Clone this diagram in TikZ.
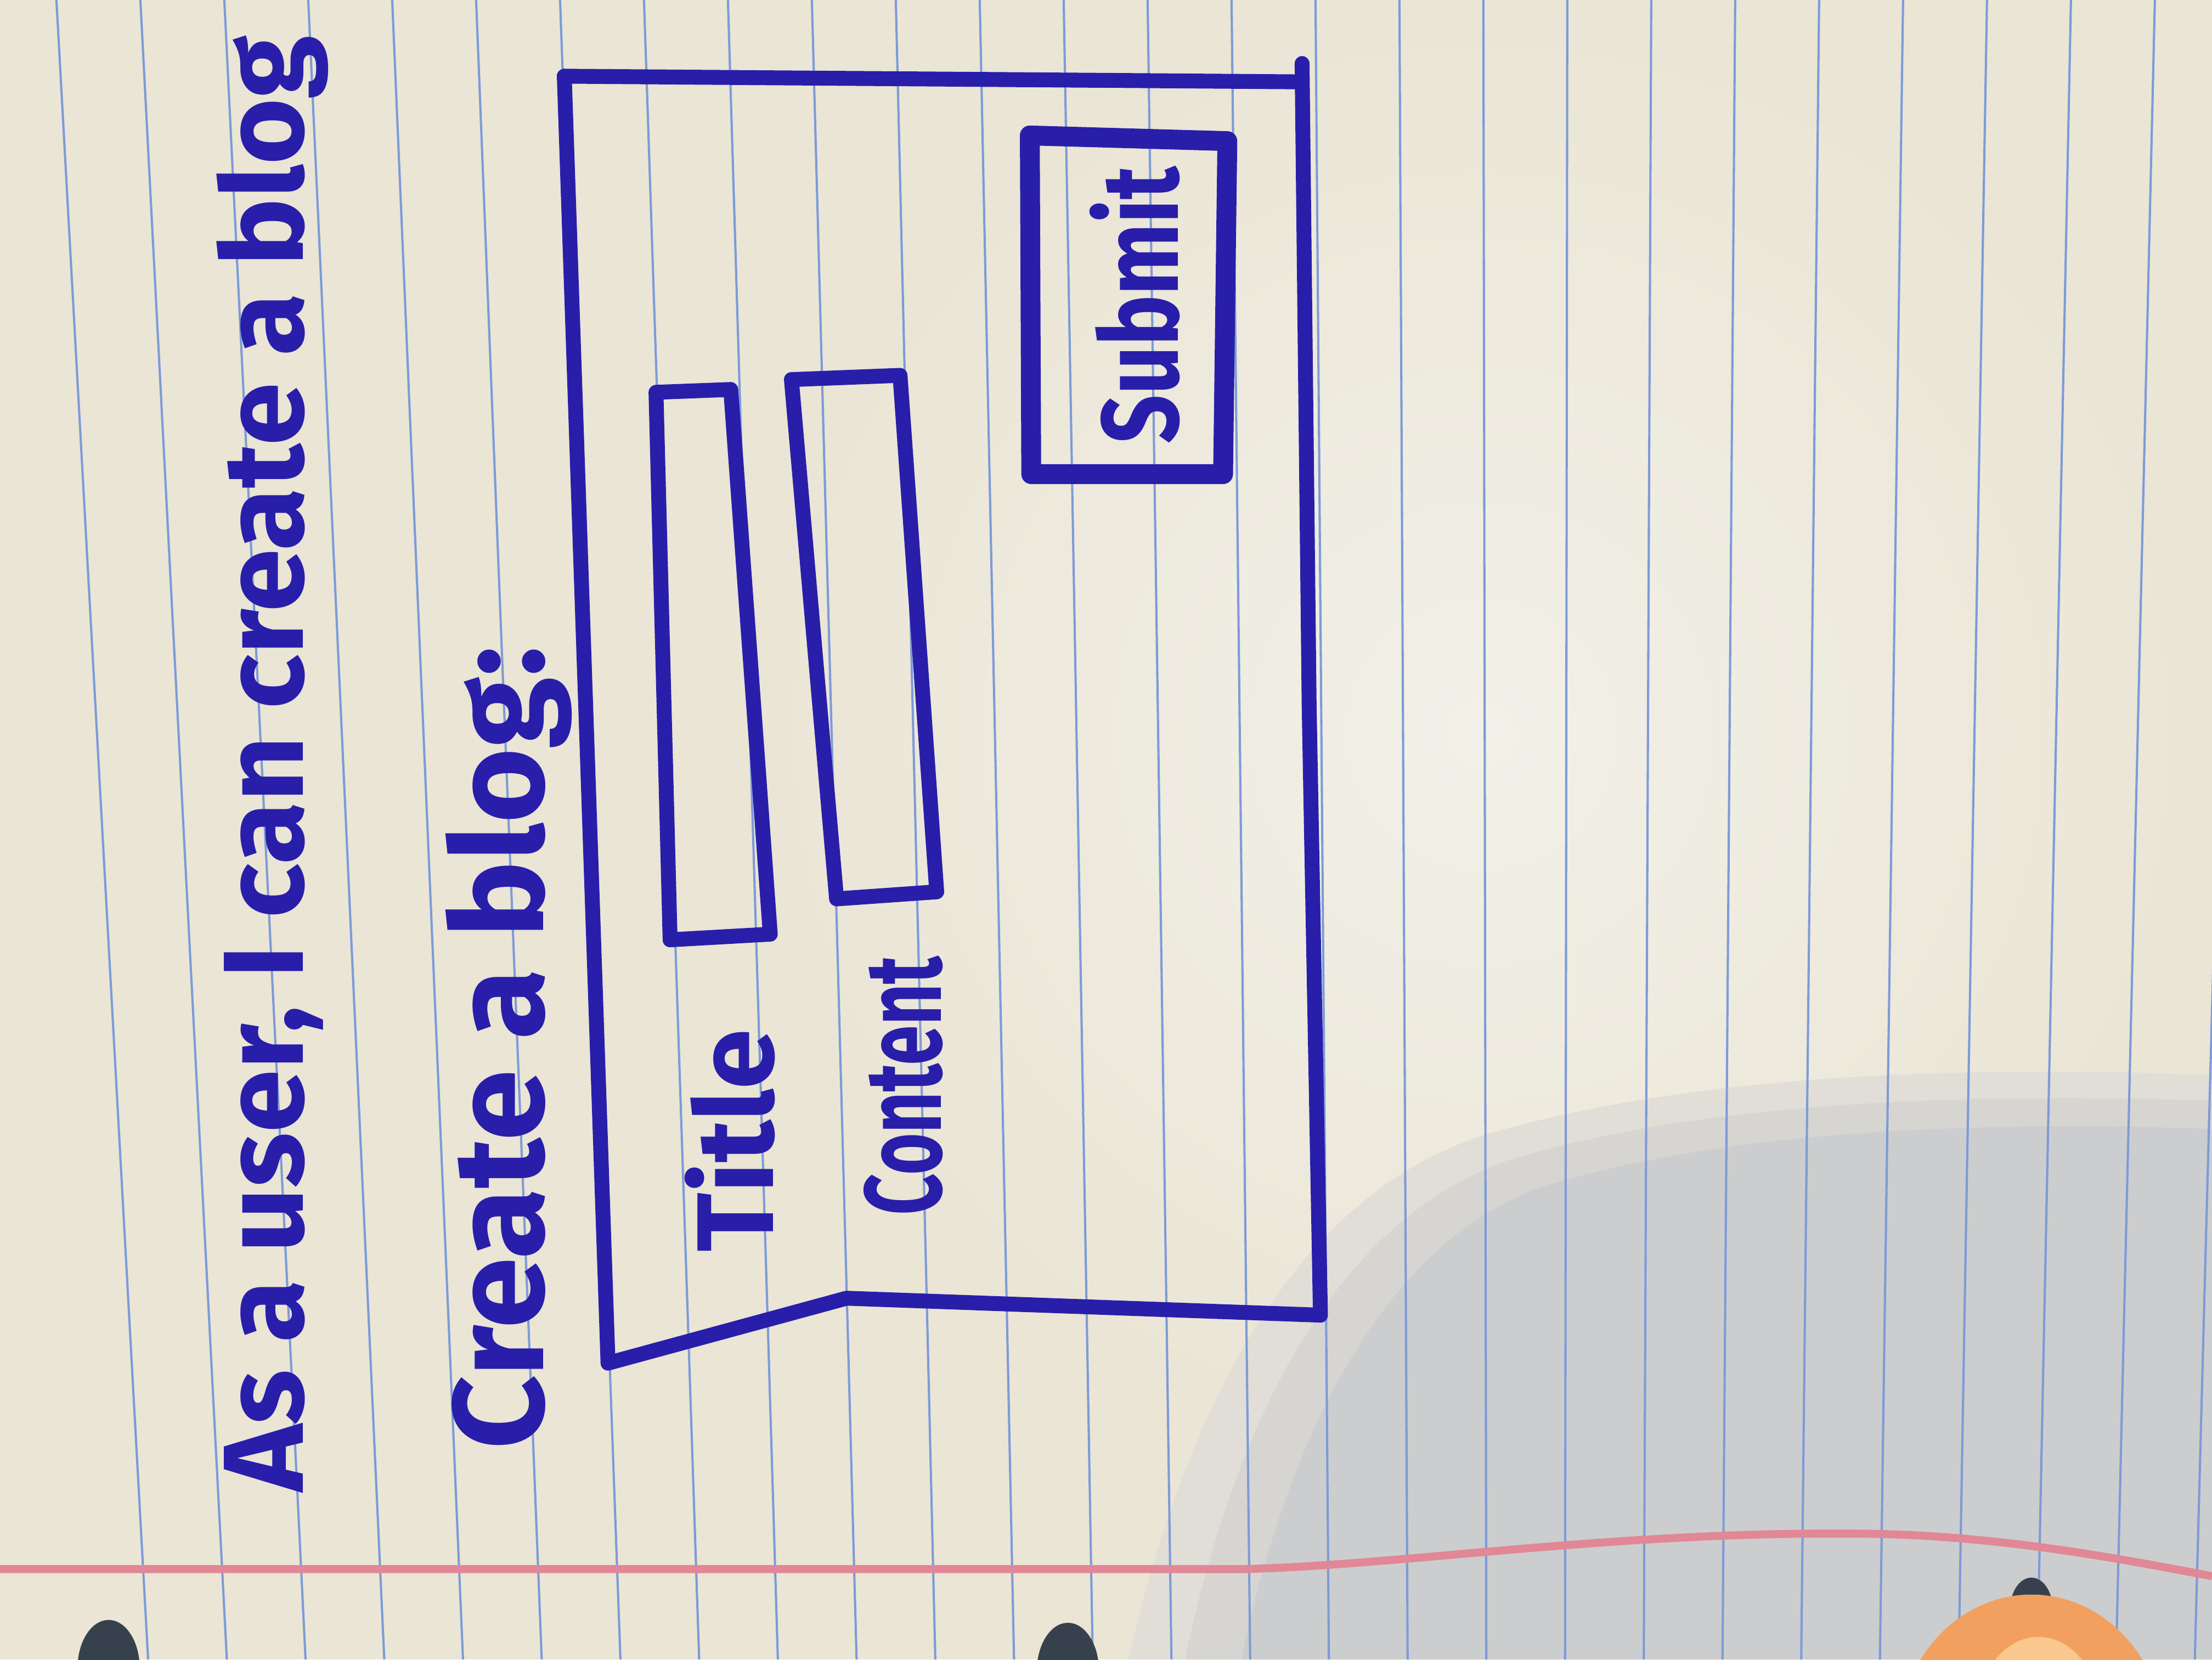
\documentclass[tikz,border=0pt]{standalone}
\usepackage{fontspec}
\setmainfont{Fira Sans}
\usetikzlibrary{positioning}
\definecolor{paper}{RGB}{234,229,213}
\definecolor{glow}{RGB}{242,240,232}
\definecolor{ink}{RGB}{40,30,170}
\definecolor{rule}{RGB}{125,155,215}
\definecolor{margin}{RGB}{225,135,150}
\definecolor{shadeA}{RGB}{224,222,214}
\definecolor{shadeB}{RGB}{214,213,210}
\definecolor{shadeC}{RGB}{204,205,206}
\definecolor{hole}{RGB}{55,65,78}
\definecolor{finger}{RGB}{242,160,95}
\definecolor{fingerlight}{RGB}{250,200,140}

\begin{document}
\begin{tikzpicture}[x=0.1mm, y=-0.1mm,
    pen/.style={draw=ink, line width=3pt, line cap=round, line join=round},
    hand/.style={text=ink, rotate=90, anchor=base west, inner sep=0pt, font=\bfseries\fontsize{#1}{#1}\selectfont}]
  \useasboundingbox (0,0) rectangle (1568,1176);
  \clip (0,0) rectangle (1568,1176);
  \fill[paper] (0,0) rectangle (1568,1176);
  \shade[inner color=glow, outer color=paper] (1050,520) circle [radius=520];
  % shadow
  \fill[shadeA] (800,1176) .. controls (840,1000) and (915,850) .. (1050,805) .. controls (1200,760) and (1400,755) .. (1568,762) -- (1568,1176) -- cycle;
  \fill[shadeB] (840,1176) .. controls (875,1010) and (945,865) .. (1070,822) .. controls (1215,778) and (1410,775) .. (1568,780) -- (1568,1176) -- cycle;
  \fill[shadeC] (880,1176) .. controls (910,1030) and (975,885) .. (1090,842) .. controls (1230,798) and (1420,795) .. (1568,800) -- (1568,1176) -- cycle;
  % ruled paper
  \foreach \k in {0,...,27}
    \draw[rule, line width=0.45pt] ({40+59.5*\k},0) -- ({105+55.8*\k},1176);
  \draw[margin, line width=1.6pt] (0,1112) -- (880,1112) .. controls (1000,1109) and (1150,1084) .. (1330,1087) .. controls (1420,1089) and (1500,1104) .. (1568,1117);
  \fill[hole] (77,1182) ellipse [x radius=22, y radius=34];
  \fill[hole] (757,1184) ellipse [x radius=22, y radius=34];
  \fill[hole] (1440,1140) ellipse [x radius=15, y radius=22];
  \fill[finger] (1440,1235) ellipse [x radius=95, y radius=105];
  \fill[fingerlight] (1445,1220) ellipse [x radius=45, y radius=60];

  \node[hand=23] (story) at (215,1058) {As a user, I can create a blog};
  \node[hand=26] (heading) at (385,1028) {Create a blog:};

  % form
  \draw[pen] (400,54) -- (922,58);
  \draw[pen] (923,45) -- (928,500) -- (936,932) -- (600,920) -- (431,966) -- (400,54);
  \draw[pen] (465,278) -- (518,276) -- (546,662) -- (475,666) -- cycle;
  \draw[pen] (561,269) -- (638,266) -- (664,632) -- (593,637) -- cycle;
  \draw[pen, line width=4pt] (730,96) -- (870,100) -- (867,336) -- (731,336) -- cycle;

  \node[hand=22] (titlelabel) at (548,888) {Title};
  \node[hand=22] (contentlabel) at (667,862) {\scalebox{0.66}[1]{Content}};
  \node[hand=22] (submitlabel) at (835,315) {\scalebox{0.78}[1]{Submit}};
\end{tikzpicture}
\end{document}
